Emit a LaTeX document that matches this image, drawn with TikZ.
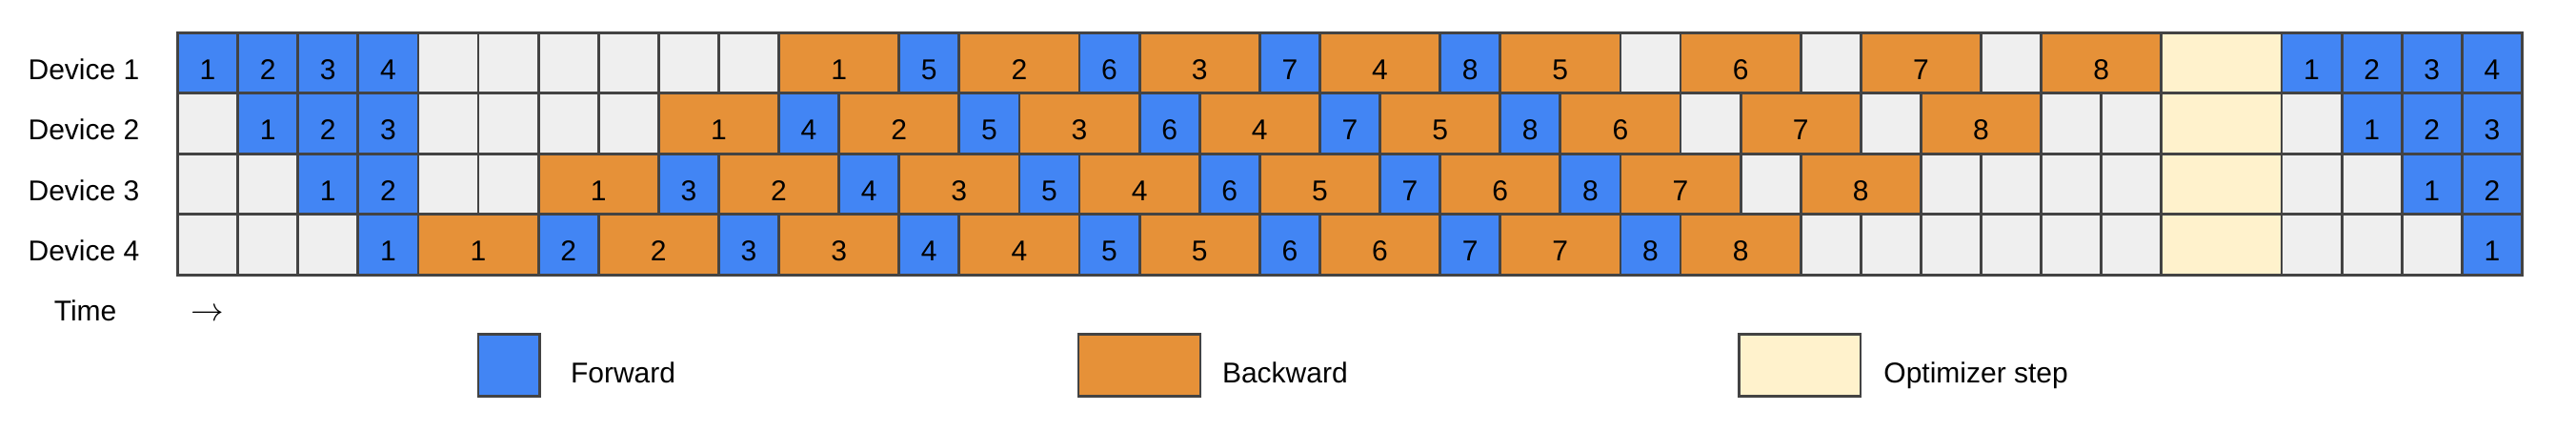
\documentclass[tikz,border=0pt]{standalone}
\usepackage{fontspec}
\setmainfont{Liberation Sans}
\definecolor{fwdc}{HTML}{4285F4}
\definecolor{bwdc}{HTML}{E69138}
\definecolor{optc}{HTML}{FFF2CC}
\definecolor{empc}{HTML}{EFEFEF}
\definecolor{edgec}{HTML}{434343}
\newcount\colpos
\def\spanfwd{1}\def\spanbwd{2}\def\spanopt{2}\def\spanemp{1}
\def\cw{31.55}\def\rh{31.75}\def\gx{93.25}\def\gy{17.15}
\tikzset{
  cellbox/.style={draw=edgec, line width=1.4pt, inner sep=0pt, outer sep=0pt,
    minimum height=\rh pt, text height=17.1pt, text depth=0pt,
    font=\fontsize{15}{18}\selectfont},
  fwd/.style={cellbox, fill=fwdc},
  bwd/.style={cellbox, fill=bwdc},
  opt/.style={cellbox, fill=optc},
  emp/.style={cellbox, fill=empc},
  lbl/.style={anchor=base west, inner sep=0pt, font=\fontsize{15}{18}\selectfont},
  legbox/.style={draw=edgec, line width=1.4pt, inner sep=0pt, minimum height=32.7pt}
}
\newcommand\schedrow[2]{%
  \global\colpos=0
  \foreach \t/\l in {#2}{%
    \pgfmathsetmacro\cellsp{\csname span\t\endcsname}%
    \pgfmathsetmacro\cellwd{\cellsp*\cw}%
    \pgfmathsetmacro\cx{\gx+(\the\colpos+\cellsp/2)*\cw}%
    \pgfmathsetmacro\cy{\gy+(#1-0.5)*\rh}%
    \node[\t, minimum width=\cellwd pt] (d#1c\the\colpos) at (\cx,\cy) {\l};
    \global\advance\colpos by \csname span\t\endcsname\relax
  }%
}
\begin{document}
\begin{tikzpicture}[x=1pt,y=-1pt]
\useasboundingbox (0,0) rectangle (1352,226);
% device labels
\foreach \r in {1,2,3,4}{
  \node[lbl] (dev\r) at (14.6,{\gy+(\r-1)*\rh+24.5}) {Device \r};
}
\schedrow{1}{fwd/1,fwd/2,fwd/3,fwd/4,emp/{},emp/{},emp/{},emp/{},emp/{},emp/{},bwd/1,fwd/5,bwd/2,fwd/6,bwd/3,fwd/7,bwd/4,fwd/8,bwd/5,emp/{},bwd/6,emp/{},bwd/7,emp/{},bwd/8,opt/{},fwd/1,fwd/2,fwd/3,fwd/4}
\schedrow{2}{emp/{},fwd/1,fwd/2,fwd/3,emp/{},emp/{},emp/{},emp/{},bwd/1,fwd/4,bwd/2,fwd/5,bwd/3,fwd/6,bwd/4,fwd/7,bwd/5,fwd/8,bwd/6,emp/{},bwd/7,emp/{},bwd/8,emp/{},emp/{},opt/{},emp/{},fwd/1,fwd/2,fwd/3}
\schedrow{3}{emp/{},emp/{},fwd/1,fwd/2,emp/{},emp/{},bwd/1,fwd/3,bwd/2,fwd/4,bwd/3,fwd/5,bwd/4,fwd/6,bwd/5,fwd/7,bwd/6,fwd/8,bwd/7,emp/{},bwd/8,emp/{},emp/{},emp/{},emp/{},opt/{},emp/{},emp/{},fwd/1,fwd/2}
\schedrow{4}{emp/{},emp/{},emp/{},fwd/1,bwd/1,fwd/2,bwd/2,fwd/3,bwd/3,fwd/4,bwd/4,fwd/5,bwd/5,fwd/6,bwd/6,fwd/7,bwd/7,fwd/8,bwd/8,emp/{},emp/{},emp/{},emp/{},emp/{},emp/{},opt/{},emp/{},emp/{},emp/{},fwd/1}
% time axis
\node[lbl] (time) at (28.2,168.35) {Time};
\node[lbl, font=\fontsize{16}{18}\selectfont] (timearrow) at (99.95,168.35) {$\rightarrow$};
% legend
\node[legbox, fill=fwdc, minimum width=32.15pt] (legf) at (267.1,191.5) {};
\node[lbl] (legftext) at (299.3,200.5) {Forward};
\node[legbox, fill=bwdc, minimum width=64pt] (legb) at (598,191.5) {};
\node[lbl] (legbtext) at (641.3,200.5) {Backward};
\node[legbox, fill=optc, minimum width=63.75pt] (lego) at (944.6,191.5) {};
\node[lbl] (legotext) at (988.5,200.5) {Optimizer step};
\end{tikzpicture}
\end{document}
